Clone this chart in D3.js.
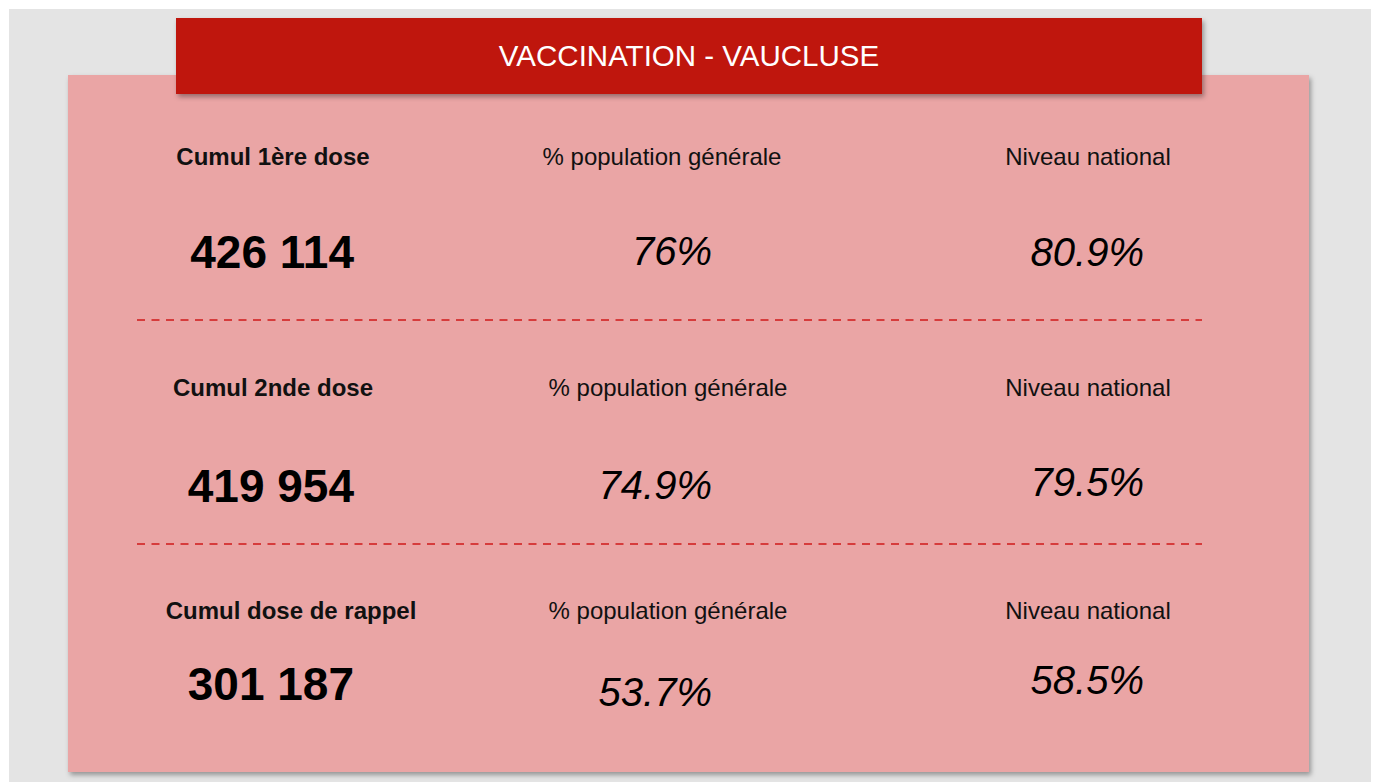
<!DOCTYPE html>
<html>
<head>
<meta charset="utf-8">
<script src="https://cdn.jsdelivr.net/npm/d3@7"></script>
<style>
  html, body { margin: 0; padding: 0; background: #ffffff; }
  svg { display: block; font-family: "Liberation Sans", Arial, sans-serif; }
</style>
</head>
<body>
<div id="wrapper"></div>
<script>
// data
const title = "VACCINATION - VAUCLUSE";
const rowLabels = ["Cumul 1ère dose", "Cumul 2nde dose", "Cumul dose de rappel"];
const pctLabel = "% population générale";
const nationalLabel = "Niveau national";
const cumulValues = [426114, 419954, 301187];
const pctPopulation = [76, 74.9, 53.7];
const pctNational = [80.9, 79.5, 58.5];

function drawCard() {
    // 1) dimensions
    const dimensions = { width: 1376, height: 782 };

    const locale = d3.formatLocale({ decimal: ".", thousands: " ", grouping: [3], currency: ["", ""] });
    const formatCount = locale.format(",d");
    const formatPct = d => d + "%";

    // 2) canvas
    const wrapper = d3.select("#wrapper")
        .append("svg")
        .attr("width", dimensions.width)
        .attr("height", dimensions.height);

    const defs = wrapper.append("defs");
    defs.append("filter")
        .attr("id", "shadow")
        .attr("x", "-5%").attr("y", "-5%")
        .attr("width", "110%").attr("height", "115%")
        .append("feDropShadow")
        .attr("dx", 2).attr("dy", 3)
        .attr("stdDeviation", 2.5)
        .attr("flood-color", "#000")
        .attr("flood-opacity", 0.35);

    // page background
    wrapper.append("rect")
        .attr("x", 9).attr("y", 9)
        .attr("width", 1362).attr("height", 773)
        .attr("fill", "#e4e4e4");

    // pink card
    wrapper.append("rect")
        .attr("x", 68).attr("y", 75)
        .attr("width", 1241).attr("height", 697)
        .attr("fill", "#eaa5a5")
        .attr("filter", "url(#shadow)");

    // red header
    wrapper.append("rect")
        .attr("x", 176).attr("y", 18)
        .attr("width", 1026).attr("height", 76)
        .attr("fill", "#bf1310")
        .attr("filter", "url(#shadow)");

    wrapper.append("text")
        .attr("x", 689).attr("y", 65.5)
        .attr("text-anchor", "middle")
        .attr("fill", "#ffffff")
        .style("font-size", "29.5px")
        .text(title);

    // 3) scales
    const rows = d3.range(rowLabels.length);
    const colCenter = d3.scaleOrdinal().domain([0, 1, 2]).range([273, 666, 1088]);
    const colEnd = d3.scaleOrdinal().domain([0, 1, 2]).range([354, 712, 1144]);
    const labelY = d3.scaleOrdinal().domain(rows).range([165, 396, 619]);
    const rowTop = d3.scaleOrdinal().domain(rows).range([75, 320, 544]);

    // small per-cell layout nudges (pixels)
    const labelNudgeX = [[0, -4, 0], [0, 2, 0], [18, 2, 0]];
    const valueY = [[268, 265, 266], [502, 499, 496], [700, 706, 694]];

    // 4) draw
    const cells = [];
    rows.forEach(i => {
        cells.push({ row: i, col: 0, label: rowLabels[i], value: formatCount(cumulValues[i]) });
        cells.push({ row: i, col: 1, label: pctLabel, value: formatPct(pctPopulation[i]) });
        cells.push({ row: i, col: 2, label: nationalLabel, value: formatPct(pctNational[i]) });
    });

    const bounds = wrapper.append("g");

    bounds.selectAll("text.label")
        .data(cells)
        .join("text")
        .attr("class", "label")
        .attr("x", d => colCenter(d.col) + labelNudgeX[d.row][d.col])
        .attr("y", d => labelY(d.row))
        .attr("text-anchor", "middle")
        .attr("fill", "#111")
        .style("font-size", "24px")
        .style("font-weight", d => d.col === 0 ? "bold" : "normal")
        .text(d => d.label);

    bounds.selectAll("text.value")
        .data(cells)
        .join("text")
        .attr("class", "value")
        .attr("x", d => colEnd(d.col))
        .attr("y", d => valueY[d.row][d.col])
        .attr("text-anchor", "end")
        .attr("fill", "#000")
        .style("font-size", d => d.col === 0 ? "46px" : "40px")
        .style("font-weight", d => d.col === 0 ? "bold" : "normal")
        .style("font-style", d => d.col === 0 ? "normal" : "italic")
        .text(d => d.value);

    // dashed separators between rows
    bounds.selectAll("line.sep")
        .data(rows.slice(1))
        .join("line")
        .attr("class", "sep")
        .attr("x1", 137)
        .attr("x2", 1202)
        .attr("y1", d => rowTop(d))
        .attr("y2", d => rowTop(d))
        .attr("stroke", "#d63c3c")
        .attr("stroke-width", 2)
        .attr("stroke-dasharray", "8,6.5");
}
drawCard();
</script>
</body>
</html>
